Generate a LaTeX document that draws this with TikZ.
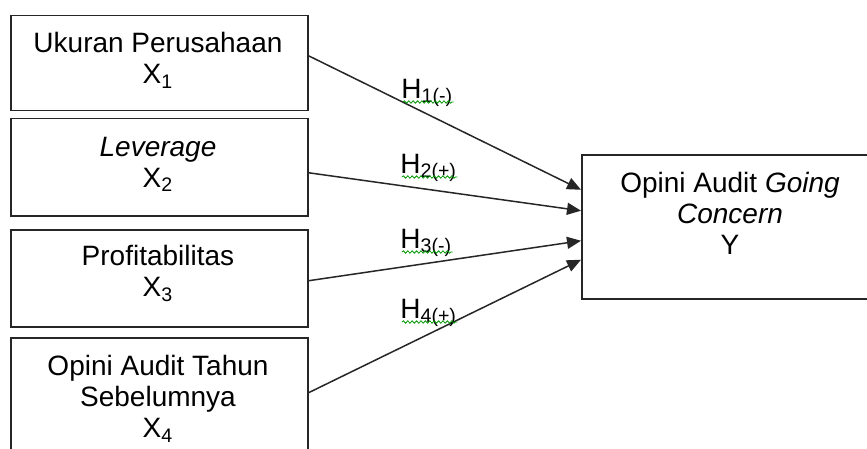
\documentclass[tikz,border=0pt]{standalone}
\usepackage{fontspec}
\setmainfont{Liberation Sans}
\usetikzlibrary{arrows.meta,calc,decorations.pathmorphing}
\begin{document}
\begin{tikzpicture}[x=0.5pt,y=-0.5pt,
  box/.style={draw=black!85, line width=0.75pt, inner sep=0, anchor=north west},
  txt/.style={font=\fontsize{14}{15.5}\selectfont, align=center, anchor=north, inner sep=0},
  link/.style={draw=black!85, line width=0.75pt, -{Triangle[length=7pt,width=6pt]}},
  hyp/.style={font=\fontsize{14}{15.5}\selectfont, anchor=base west, inner sep=0},
  squiggle/.style={draw=green!60!black, line width=0.4pt, decorate,
    decoration={snake, amplitude=0.6pt, segment length=2.2pt}}
]
\useasboundingbox (0,0) rectangle (867,449);
\clip (0,0) rectangle (867,449);

% independent variables
\node[box, minimum width=148.5pt, minimum height=47.5pt] (x1) at (10,15) {};
\node[box, minimum width=148.5pt, minimum height=48.5pt] (x2) at (10,118) {};
\node[box, minimum width=148.5pt, minimum height=48.5pt] (x3) at (10,229) {};
\node[box, minimum width=148.5pt, minimum height=59pt] (x4) at (10,337) {};
% dependent variable
\node[box, minimum width=149pt, minimum height=72pt] (y) at (581,154) {};

\node[txt] (t1) at (158,32) {Ukuran Perusahaan\\X\textsubscript{1}};
\node[txt] (t2) at (158,137) {\textit{Leverage}\\X\textsubscript{2}};
\node[txt] (t3) at (158,245) {Profitabilitas\\X\textsubscript{3}};
\node[txt] (t4) at (158,355) {Opini Audit Tahun\\Sebelumnya\\X\textsubscript{4}};
\node[txt] (ty) at (730,172) {Opini Audit \textit{Going}\\\textit{Concern}\\Y};

% hypothesis paths
\draw[link] ($(x1.east)+(0,-7.5)$) -- ($(y.west)+(0,-37)$);
\draw[link] ($(x2.east)+(0,5.5)$) -- ($(y.west)+(0,-16)$);
\draw[link] ($(x3.east)+(0,2.5)$) -- ($(y.west)+(0,14)$);
\draw[link] ($(x4.east)+(0,-4)$) -- ($(y.west)+(0,33)$);

% hypothesis labels
\node[hyp] (h1) at (401,98) {H\textsubscript{1(-)}};
\node[hyp] (h2) at (400,173) {H\textsubscript{2(+)}};
\node[hyp] (h3) at (400,248) {H\textsubscript{3(-)}};
\node[hyp] (h4) at (400,318) {H\textsubscript{4(+)}};
\foreach \h in {h1,h2,h3,h4}
  \draw[squiggle] ($(\h.base west)+(2,4)$) -- ($(\h.base east)+(0,4)$);
\end{tikzpicture}
\end{document}
